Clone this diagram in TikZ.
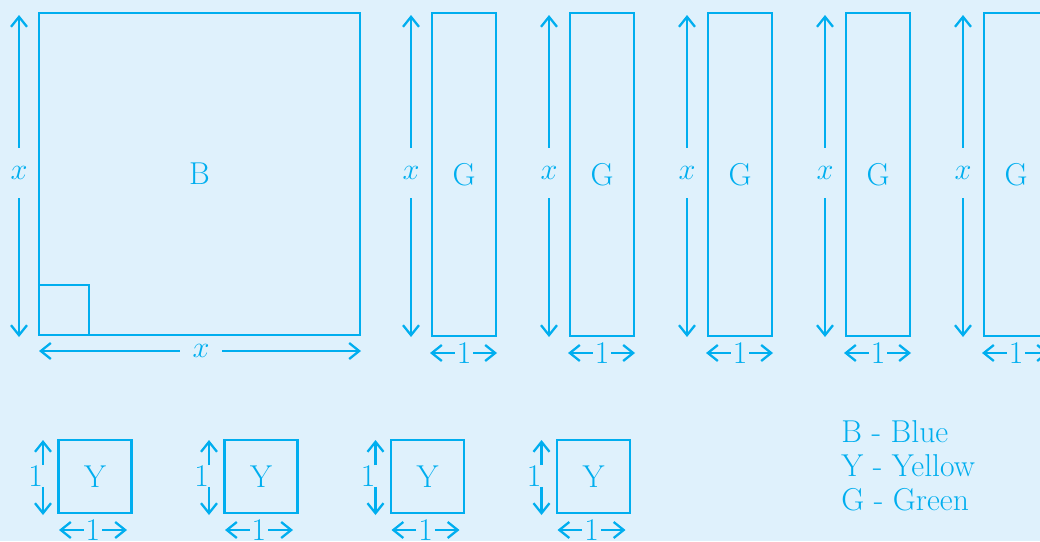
\documentclass[tikz,border=0pt]{standalone}
\usetikzlibrary{arrows.meta}
\definecolor{lineblue}{RGB}{0,174,239}
\definecolor{bgblue}{RGB}{223,241,252}
\begin{document}
\begin{tikzpicture}[x=0.02cm,y=-0.02cm]
        \fill[bgblue] (0,0) rectangle (1040,541);
        \useasboundingbox (0,0) rectangle (1040,541);
        \begin{scope}[every node/.style={draw=lineblue,line width=1.4pt,text=lineblue,font=\fontsize{18}{22}\selectfont}]
            \node (1) [minimum width=6.42cm,minimum height=6.44cm] at (199.5,174) {B};
            \node (2) [minimum size=1cm] at (64,310) {};
            \node (3) [minimum width=1.28cm,minimum height=6.46cm] at (464,174.5) {G};
            \node (4) [minimum width=1.28cm,minimum height=6.46cm] at (602,174.5) {G};
            \node (5) [minimum width=1.28cm,minimum height=6.46cm] at (740,174.5) {G};
            \node (6) [minimum width=1.28cm,minimum height=6.46cm] at (878,174.5) {G};
            \node (7) [minimum width=1.28cm,minimum height=6.46cm] at (1016,174.5) {G};
            \node (8) [minimum size=1.46cm] at (95,476.5) {Y};
            \node (9) [minimum size=1.46cm] at (261,476.5) {Y};
            \node (10) [minimum size=1.46cm] at (427.5,476.5) {Y};
            \node (11) [minimum size=1.46cm] at (593.5,476.5) {Y};
        \end{scope}
        \begin{scope}[every node/.style={text=lineblue,inner sep=0pt,font=\fontsize{18}{22}\selectfont}]
            \node (21) [minimum height=1cm] at (19,173) {$x$};
            \node (22) [minimum width=0.84cm] at (201,351) {$x$};
            \node (23) [minimum height=1cm] at (411,173) {$x$};
            \node (24) [minimum height=1cm] at (549,173) {$x$};
            \node (25) [minimum height=1cm] at (687,173) {$x$};
            \node (26) [minimum height=1cm] at (825,173) {$x$};
            \node (27) [minimum height=1cm] at (963,173) {$x$};
            \node (33) [inner xsep=1pt] at (464,353) {1};
            \node (34) [inner xsep=1pt] at (602,353) {1};
            \node (35) [inner xsep=1pt] at (740,353) {1};
            \node (36) [inner xsep=1pt] at (878,353) {1};
            \node (37) [inner xsep=1pt] at (1016,353) {1};
            \node (48) [minimum height=0.36cm] at (43,476) {\llap{1}};
            \node (49) [minimum height=0.36cm] at (209,476) {\llap{1}};
            \node (50) [minimum height=0.36cm] at (375.5,476) {\llap{1}};
            \node (51) [minimum height=0.36cm] at (541.5,476) {\llap{1}};
            \node (58) [inner xsep=1pt] at (93,530) {1};
            \node (59) [inner xsep=1pt] at (259,530) {1};
            \node (60) [inner xsep=1pt] at (425.5,530) {1};
            \node (61) [inner xsep=1pt] at (591.5,530) {1};
            \node (71) [anchor=west] at (841,432) {B - Blue};
            \node (72) [anchor=west] at (841,466) {Y - Yellow};
            \node (73) [anchor=west] at (841,500) {G - Green};
        \end{scope}
        \coordinate (21a) at (19,15);    \coordinate (21b) at (19,337);
        \coordinate (22a) at (39,351);   \coordinate (22b) at (361,351);
        \coordinate (23a) at (411,15);   \coordinate (23b) at (411,337);
        \coordinate (24a) at (549,15);   \coordinate (24b) at (549,337);
        \coordinate (25a) at (687,15);   \coordinate (25b) at (687,337);
        \coordinate (26a) at (825,15);   \coordinate (26b) at (825,337);
        \coordinate (27a) at (963,15);   \coordinate (27b) at (963,337);
        \coordinate (33a) at (430,353);  \coordinate (33b) at (497,353);
        \coordinate (34a) at (568,353);  \coordinate (34b) at (635,353);
        \coordinate (35a) at (706,353);  \coordinate (35b) at (773,353);
        \coordinate (36a) at (844,353);  \coordinate (36b) at (911,353);
        \coordinate (37a) at (982,353);  \coordinate (37b) at (1049,353);
        \coordinate (48a) at (43,440);   \coordinate (48b) at (43,515);
        \coordinate (49a) at (209,440);  \coordinate (49b) at (209,515);
        \coordinate (50a) at (375.5,440);  \coordinate (50b) at (375.5,515);
        \coordinate (51a) at (541.5,440);  \coordinate (51b) at (541.5,515);
        \coordinate (58a) at (59,530);   \coordinate (58b) at (127,530);
        \coordinate (59a) at (225,530);  \coordinate (59b) at (293,530);
        \coordinate (60a) at (391.5,530);  \coordinate (60b) at (459.5,530);
        \coordinate (61a) at (557.5,530);  \coordinate (61b) at (625.5,530);
        \begin{scope}[every edge/.style={draw=lineblue,line width=1.3pt,-{Straight Barb[length=2mm,width=3.2mm]}}]
            \path
                (21) edge (21a) (21) edge (21b)
                (22) edge (22a) (22) edge (22b)
                (23) edge (23a) (23) edge (23b)
                (24) edge (24a) (24) edge (24b)
                (25) edge (25a) (25) edge (25b)
                (26) edge (26a) (26) edge (26b)
                (27) edge (27a) (27) edge (27b)
                (33) edge (33a) (33) edge (33b)
                (34) edge (34a) (34) edge (34b)
                (35) edge (35a) (35) edge (35b)
                (36) edge (36a) (36) edge (36b)
                (37) edge (37a) (37) edge (37b)
                (48) edge (48a) (48) edge (48b)
                (49) edge (49a) (49) edge (49b)
                (50) edge (50a) (50) edge (50b)
                (51) edge (51a) (51) edge (51b)
                (58) edge (58a) (58) edge (58b)
                (59) edge (59a) (59) edge (59b)
                (60) edge (60a) (60) edge (60b)
                (61) edge (61a) (61) edge (61b);
        \end{scope}
    \end{tikzpicture}
\end{document}
